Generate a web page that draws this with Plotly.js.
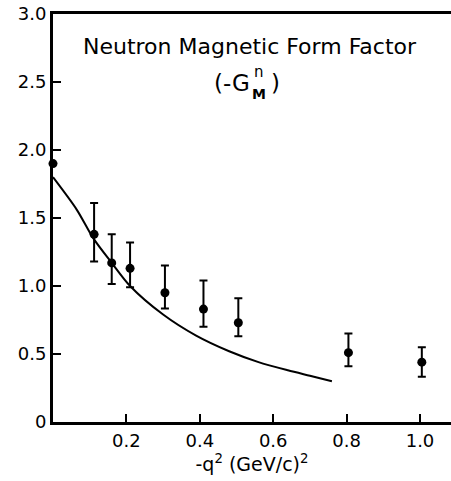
<!DOCTYPE html>
<html>
<head>
<meta charset="utf-8">
<script src="https://cdn.plot.ly/plotly-3.0.1.min.js"></script>
<style>html,body{margin:0;padding:0;background:#fff;}#chart{width:451px;height:481px;}</style>
</head>
<body>
<div id="chart"></div>
<script>
// Measured data points: -q^2 (GeV/c)^2 vs -G_M^n
const q2Data = [0.0, 0.112, 0.16, 0.21, 0.305, 0.41, 0.505, 0.805, 1.005];
const gmnData = [1.90, 1.38, 1.17, 1.13, 0.95, 0.83, 0.73, 0.51, 0.44];
const errUpper = [0.0, 0.23, 0.21, 0.19, 0.20, 0.21, 0.18, 0.14, 0.11];
const errLower = [0.0, 0.20, 0.155, 0.14, 0.115, 0.13, 0.10, 0.10, 0.107];

// Theoretical curve
const curveX = [0.0, 0.065, 0.11, 0.16, 0.21, 0.30, 0.39, 0.48, 0.56, 0.64, 0.70, 0.76];
const curveY = [1.80, 1.56, 1.35, 1.17, 1.00, 0.79, 0.635, 0.52, 0.44, 0.38, 0.34, 0.30];

// Tick labels
const xTickVals = [0.2, 0.4, 0.6, 0.8, 1.0];
const xTickText = ["0.2", "0.4", "0.6", "0.8", "1.0"];
const yTickVals = [0, 0.5, 1.0, 1.5, 2.0, 2.5, 3.0];
const yTickText = ["0", "0.5", "1.0", "1.5", "2.0", "2.5", "3.0"];

const FONT = "DejaVu Sans, Liberation Sans, sans-serif";

const traces = [
  {
    x: curveX, y: curveY, type: 'scatter', mode: 'lines',
    line: {color: '#000', width: 2, shape: 'spline', smoothing: 0.8}, hoverinfo: 'skip', cliponaxis: false
  },
  {
    x: q2Data, y: gmnData, type: 'scatter', mode: 'markers',
    marker: {color: '#000', size: 9},
    error_y: {type: 'data', symmetric: false, array: errUpper, arrayminus: errLower,
              color: '#000', thickness: 2, width: 4},
    cliponaxis: false
  }
];

const layout = {
  width: 451, height: 481,
  margin: {l: 53, r: 0, t: 14, b: 59},
  paper_bgcolor: '#fff', plot_bgcolor: '#fff',
  showlegend: false,
  font: {family: FONT, color: '#000', size: 18},
  xaxis: {
    range: [0, 1.0845], showgrid: false, zeroline: false,
    showline: true, linecolor: '#000', linewidth: 3, mirror: true,
    ticks: 'inside', ticklen: 8, tickwidth: 2, tickcolor: '#000',
    tickvals: xTickVals, ticktext: xTickText,
    tickfont: {family: FONT, size: 18, color: '#000'},
    title: {text: '-q<sup>2</sup> (GeV/c)<sup>2</sup>', font: {family: FONT, size: 19, color: '#000'}, standoff: 4}
  },
  yaxis: {
    range: [0, 3.0], showgrid: false, zeroline: false,
    showline: true, linecolor: '#000', linewidth: 3,
    ticks: 'inside', ticklen: 8, tickwidth: 2, tickcolor: '#000',
    tickvals: yTickVals, ticktext: yTickText,
    tickfont: {family: FONT, size: 18, color: '#000'}
  },
  annotations: [
    {text: 'Neutron Magnetic Form Factor', xref: 'paper', yref: 'paper', x: 0.495, y: 0.92,
     xanchor: 'center', yanchor: 'middle', showarrow: false,
     font: {family: FONT, size: 22, color: '#000'}},
    {text: '(-G', xref: 'paper', yref: 'paper', x: 0.45, y: 0.83,
     xanchor: 'center', yanchor: 'middle', showarrow: false,
     font: {family: FONT, size: 23, color: '#000'}},
    {text: 'n', xref: 'paper', yref: 'paper', x: 0.518, y: 0.857,
     xanchor: 'center', yanchor: 'middle', showarrow: false,
     font: {family: FONT, size: 15, color: '#000'}},
    {text: '<b>M</b>', xref: 'paper', yref: 'paper', x: 0.518, y: 0.803,
     xanchor: 'center', yanchor: 'middle', showarrow: false,
     font: {family: FONT, size: 14, color: '#000'}},
    {text: ')', xref: 'paper', yref: 'paper', x: 0.56, y: 0.83,
     xanchor: 'center', yanchor: 'middle', showarrow: false,
     font: {family: FONT, size: 23, color: '#000'}}
  ]
};

Plotly.newPlot('chart', traces, layout, {displayModeBar: false, staticPlot: true});
</script>
</body>
</html>
